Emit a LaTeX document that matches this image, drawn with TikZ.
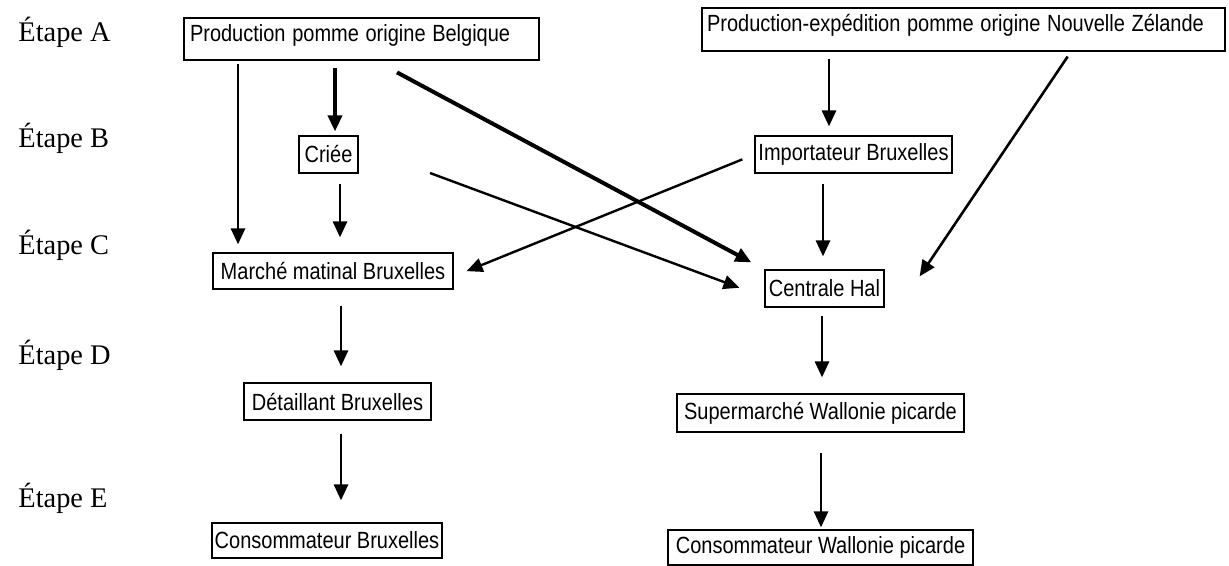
\documentclass[tikz,border=0pt]{standalone}
\usepackage{fontspec}
\usepackage{graphicx}
\setmainfont{Liberation Serif}
\setsansfont{Liberation Sans}
\usetikzlibrary{arrows.meta}

% texte des boites, un peu etire en hauteur
\newcommand{\boxtxt}[1]{\scalebox{1}[1.17]{#1}}

\tikzset{
  box/.style={draw, line width=0.6pt, inner xsep=1pt, inner ysep=0pt,
    font=\sffamily\fontsize{10}{12}\selectfont},
  topbox/.style={box, align=left, inner ysep=3.5pt, text height=8.5pt},
  arr/.style={-{Triangle[length=8pt,width=7pt]}, line width=1.4pt},
  etape/.style={anchor=base west, inner sep=0pt, font=\fontsize{14.2}{17}\selectfont}
}

\begin{document}
\begin{tikzpicture}[x=0.5pt, y=-0.5pt]
      \useasboundingbox (0,0) rectangle (1229,566);
      % etapes
      \node[etape] (ea) at (18,42) {Étape A};
      \node[etape] (eb) at (18,148) {Étape B};
      \node[etape] (ec) at (18,255) {Étape C};
      \node[etape] (ed) at (18,364) {Étape D};
      \node[etape] (ee) at (18,507) {Étape E};
      % boites
      \node[topbox, inner xsep=3pt, text width=171.5pt, text depth=5.5pt] (belg) at (361.5,39) {\boxtxt{Production pomme origine Belgique}};
      \node[topbox, inner xsep=2.5pt, text width=256.5pt, text depth=6pt] (nz) at (963.5,29.5) {\boxtxt{Production-expédition pomme origine Nouvelle Zélande}};
      \node[box, minimum width=29.5pt, minimum height=18.5pt] (crie) at (328.5,154.5) {\boxtxt{Criée}};
      \node[box, minimum width=98.5pt, minimum height=18.5pt] (imp) at (853.5,154.5) {\boxtxt{Importateur Bruxelles}};
      \node[box, minimum width=120pt, minimum height=18pt] (marche) at (333,271) {\boxtxt{Marché matinal Bruxelles}};
      \node[box, minimum width=59.5pt, minimum height=18.5pt] (hal) at (824.5,288.5) {\boxtxt{Centrale Hal}};
      \node[box, minimum width=93.5pt, minimum height=18.5pt] (detail) at (337.5,401.5) {\boxtxt{Détaillant Bruxelles}};
      \node[box, minimum width=143.5pt, minimum height=19pt] (super) at (820.5,413) {\boxtxt{Supermarché Wallonie picarde}};
      \node[box, minimum width=115pt, minimum height=17.5pt] (consb) at (327,540.5) {\boxtxt{Consommateur Bruxelles}};
      \node[box, minimum width=152.5pt, minimum height=17.5pt] (consw) at (820.5,547.5) {\boxtxt{Consommateur Wallonie picarde}};
      \coordinate (cstart) at (430,173);
      % fleches
      \draw[arr, shorten <=1.5pt, shorten >=4pt] (belg.south -| 238,0) -- (marche.north -| 238,0);
      \draw[arr, line width=1.8pt, shorten <=3.5pt, shorten >=2pt] (belg.south -| 335,0) -- (crie.north -| 335,0);
      \draw[arr, shorten <=5pt, shorten >=7.5pt] (crie.south -| 340,0) -- (marche.north -| 340,0);
      \draw[arr, line width=2pt, shorten <=12.5pt, shorten >=7.4pt] (belg.south -| 375,0) -- (hal.north west);
      \draw[arr, line width=1.2pt, shorten >=13.3pt] (cstart) -- ([yshift=-4.25pt]hal.west);
      \draw[arr, line width=1.2pt, shorten <=6.5pt, shorten >=7pt] (imp.west) -- ([yshift=-2.7pt]marche.east);
      \draw[arr, shorten <=5pt, shorten >=6.5pt] (imp.south -| 823,0) -- (hal.north -| 823,0);
      \draw[arr, shorten <=3.5pt, shorten >=4.5pt] (nz.south -| 829,0) -- (imp.north -| 829,0);
      \draw[arr, line width=1.3pt, shorten <=3pt] (nz.south -| 1071,0) -- ([xshift=17.5pt,yshift=-3.5pt]hal.north east);
      \draw[arr, shorten <=4pt, shorten >=8pt] (hal.south -| 822,0) -- (super.north -| 822,0);
      \draw[arr, shorten <=10pt, shorten >=1pt] (super.south -| 821,0) -- (consw.north -| 821,0);
      \draw[arr, shorten <=8pt, shorten >=8pt] (marche.south -| 341,0) -- (detail.north -| 341,0);
      \draw[arr, shorten <=6.5pt, shorten >=11pt] (detail.south -| 341,0) -- (consb.north -| 341,0);
\end{tikzpicture}
\end{document}
